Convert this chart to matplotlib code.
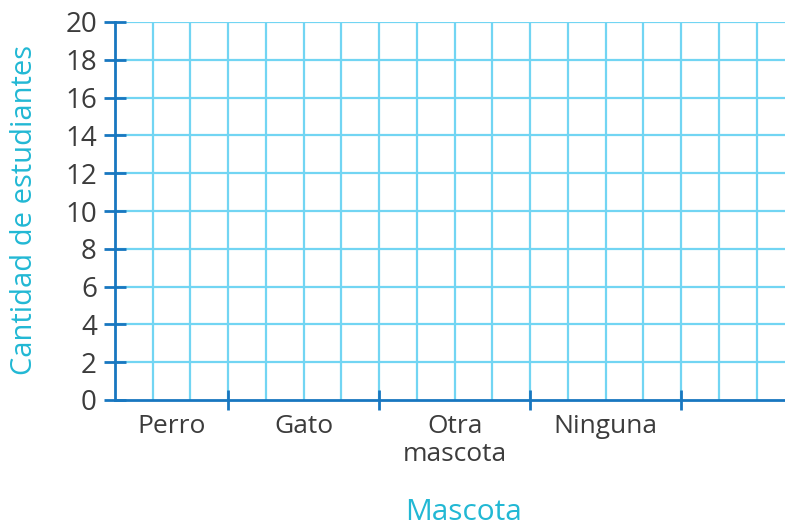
import matplotlib.pyplot as plt
import numpy as np

# Ejes de la gráfica de mascotas (cuadrícula vacía)
mascotas = ['Perro', 'Gato', 'Otra\nmascota', 'Ninguna']
pos_mascotas = [1.5, 5.0, 9.0, 13.0]
limites_x = [3, 7, 11, 15]
marcas_y = list(range(0, 21, 2))

azul_eje = '#1877c0'
azul_rejilla = '#72d5f3'
gris_texto = '#3c3c3c'
cian_titulo = '#22b8d4'

plt.rcParams['font.family'] = ['Open Sans', 'DejaVu Sans']

fig = plt.figure(figsize=(7.85, 5.27), dpi=100)
ax = fig.add_axes([115 / 785, 127 / 527, 670 / 785, 378 / 527])

ax.set_xlim(0, 17.75)
ax.set_ylim(0, 20)

# Cuadrícula: cada celda vale 1 unidad horizontal y 2 estudiantes
for xv in np.arange(1, 18):
    ax.axvline(xv, color=azul_rejilla, lw=1.6, zorder=1)
for yv in marcas_y[1:]:
    ax.axhline(yv, color=azul_rejilla, lw=1.6, zorder=1)

for lado in ['top', 'right']:
    ax.spines[lado].set_visible(False)
for lado in ['left', 'bottom']:
    ax.spines[lado].set_color(azul_eje)
    ax.spines[lado].set_linewidth(2)
    ax.spines[lado].set_zorder(3)

ax.set_yticks(marcas_y)
ax.set_yticklabels([str(v) for v in marcas_y])
ax.tick_params(axis='y', direction='inout', length=16, width=2, color=azul_eje,
               labelsize=20, labelcolor=gris_texto, pad=5)

ax.set_xticks(limites_x)
ax.set_xticklabels([])
ax.tick_params(axis='x', direction='inout', length=14, width=2, color=azul_eje)

for x, nombre in zip(pos_mascotas, mascotas):
    ax.text(x, -0.75, nombre, ha='center', va='top', fontsize=19,
            color=gris_texto, linespacing=1.15)

fig.text(25 / 785, 1 - 210 / 527, 'Cantidad de estudiantes', rotation=90,
         ha='center', va='center', fontsize=21, color=cian_titulo)
fig.text(464 / 785, 1 - 513 / 527, 'Mascota', ha='center', va='center',
         fontsize=21.5, color=cian_titulo)

fig.savefig('out.png', dpi=100)
